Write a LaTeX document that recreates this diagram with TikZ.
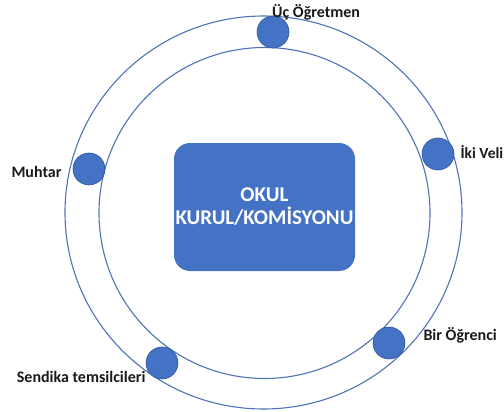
\documentclass[tikz,border=0pt]{standalone}
\usepackage{fontspec}
\setmainfont{Carlito}
\definecolor{okulblue}{HTML}{4472C4}
\definecolor{okuledge}{HTML}{2F5597}
\definecolor{ringblue}{HTML}{4F74B5}

\begin{document}
\begin{tikzpicture}[x=1pt,y=-1pt,
	ring/.style={draw=ringblue, line width=1.1pt},
	member/.style={circle, fill=okulblue, draw=okuledge, line width=0.6pt, minimum size=32pt, inner sep=0pt},
	lbl/.style={font=\fontsize{16}{18}\selectfont\bfseries, text=black!90, inner sep=0pt}]
		\useasboundingbox (0,0) rectangle (504,412);
		% rings
		\coordinate (c) at (264.5,213);
		\draw[ring] (263.5,212.5) ellipse [x radius=198.5pt, y radius=196.5pt];
		\draw[ring] (c) circle [radius=165.5pt];
		% center box
		\node[fill=okulblue, rounded corners=16pt, minimum width=181pt, minimum height=128pt, inner sep=0pt,
			text=white, font=\fontsize{21}{23}\selectfont\bfseries, align=center] (kurul) at (264.5,207) {OKUL\\KURUL/KOMİSYONU};
		% members on the ring
		\node[member] (ucogretmen) at (273,32) {};
		\node[member] (ikiveli) at (438,154) {};
		\node[member] (muhtar) at (89,169) {};
		\node[member] (birogrenci) at (389,343) {};
		\node[member] (sendika) at (162,363) {};
		% labels
		\node[lbl, anchor=base west] (ucogretmentxt) at ([xshift=-1pt,yshift=-2pt]ucogretmen.north) {Üç Öğretmen};
		\node[lbl, anchor=base west, font=\fontsize{15.5}{18}\selectfont\bfseries] (ikivelitxt) at ([xshift=6pt,yshift=-4pt]ikiveli.east) {İki Veli};
		\node[lbl, anchor=base east] (muhtartxt) at ([xshift=-11pt,yshift=-8pt]muhtar.west) {Muhtar};
		\node[lbl, anchor=base west] (birogrencitxt) at ([xshift=18pt,yshift=3pt]birogrenci.east) {Bir Öğrenci};
		\node[lbl, anchor=base east] (sendikatxt) at ([yshift=-19pt]sendika.west) {Sendika temsilcileri};
	\end{tikzpicture}
\end{document}
